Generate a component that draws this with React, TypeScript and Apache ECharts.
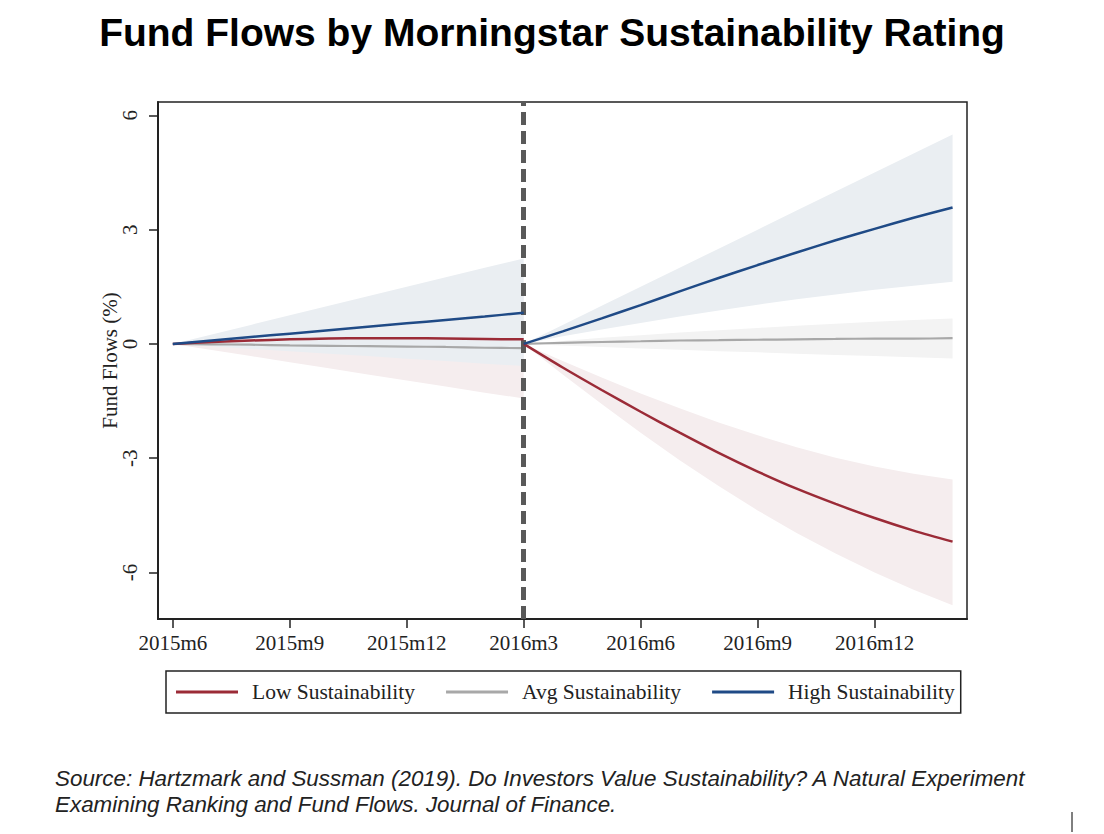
import React, { useEffect, useRef } from "react";
import * as echarts from "echarts";

// Months since 2015m6
const preMonths = [0, 1, 2, 3, 4, 5, 6, 7, 8, 9];
const postMonths = [9, 10, 11, 12, 13, 14, 15, 16, 17, 18, 19, 20];

const tickMonths = [0, 3, 6, 9, 12, 15, 18];
const tickLabels = ["2015m6", "2015m9", "2015m12", "2016m3", "2016m6", "2016m9", "2016m12"];
const yTicks = [-6, -3, 0, 3, 6];
const eventMonth = 9;

// Low sustainability
const lowPre = [0, 0.05, 0.09, 0.12, 0.14, 0.15, 0.15, 0.14, 0.13, 0.12];
const lowPreUpper = [0, 0.18, 0.36, 0.54, 0.72, 0.9, 1.08, 1.26, 1.44, 1.62];
const lowPreLower = [0, -0.16, -0.32, -0.48, -0.64, -0.8, -0.96, -1.12, -1.28, -1.43];
const lowPost = [0, -0.62, -1.21, -1.78, -2.33, -2.86, -3.35, -3.8, -4.2, -4.57, -4.9, -5.19];
const lowPostUpper = [0, -0.45, -0.88, -1.3, -1.69, -2.06, -2.4, -2.71, -2.99, -3.22, -3.41, -3.56];
const lowPostLower = [0, -0.8, -1.58, -2.33, -3.05, -3.73, -4.37, -4.96, -5.5, -6.0, -6.45, -6.86];

// Avg sustainability
const avgPre = [0, -0.01, -0.02, -0.04, -0.05, -0.06, -0.07, -0.08, -0.1, -0.11];
const avgPreUpper = [0, 0.05, 0.1, 0.15, 0.2, 0.25, 0.3, 0.35, 0.4, 0.45];
const avgPreLower = [0, -0.05, -0.11, -0.16, -0.22, -0.27, -0.33, -0.38, -0.44, -0.5];
const avgPost = [0, 0.03, 0.05, 0.07, 0.09, 0.1, 0.11, 0.12, 0.13, 0.14, 0.14, 0.15];
const avgPostUpper = [0, 0.08, 0.16, 0.23, 0.3, 0.36, 0.42, 0.48, 0.53, 0.58, 0.63, 0.67];
const avgPostLower = [0, -0.04, -0.08, -0.12, -0.15, -0.19, -0.22, -0.26, -0.29, -0.32, -0.35, -0.38];

// High sustainability
const highPre = [0, 0.09, 0.18, 0.27, 0.36, 0.45, 0.54, 0.63, 0.72, 0.82];
const highPreUpper = [0, 0.25, 0.5, 0.75, 1.0, 1.25, 1.5, 1.75, 2.0, 2.24];
const highPreLower = [0, -0.06, -0.13, -0.19, -0.26, -0.32, -0.39, -0.45, -0.52, -0.58];
const highPost = [0, 0.33, 0.67, 1.02, 1.38, 1.73, 2.07, 2.4, 2.72, 3.02, 3.31, 3.58];
const highPostUpper = [0, 0.5, 1.0, 1.5, 2.0, 2.5, 3.0, 3.5, 4.0, 4.5, 5.0, 5.5];
const highPostLower = [0, 0.2, 0.38, 0.55, 0.72, 0.88, 1.03, 1.17, 1.3, 1.42, 1.53, 1.63];

const RED = "#9B2B37";
const GRAY = "#A8A8A8";
const BLUE = "#1F4A86";
const RED_BAND = "#F5EDEE";
const GRAY_BAND = "#F3F3F3";
const BLUE_BAND = "#EAEEF2";

const SERIF = "'Liberation Serif', 'DejaVu Serif', serif";

function band(xs: number[], upper: number[], lower: number[], color: string, z: number) {
  return {
    type: "custom",
    silent: true,
    z,
    data: [[xs[0], upper[0]]],
    renderItem: (params: any, api: any) => {
      if (params.dataIndex !== 0) return null;
      const top = xs.map((x, i) => api.coord([x, upper[i]]));
      const bottom = xs.map((x, i) => api.coord([x, lower[i]])).reverse();
      return {
        type: "polygon",
        shape: { points: top.concat(bottom), smooth: 0 },
        style: { fill: color, stroke: "none" },
      };
    },
  };
}

function line(name: string, xs: number[], ys: number[], color: string, width: number, z: number, extra: any = {}) {
  return {
    name,
    type: "line",
    data: xs.map((x, i) => [x, ys[i]]),
    showSymbol: false,
    symbol: "none",
    smooth: 0.3,
    z,
    lineStyle: { color, width },
    itemStyle: { color },
    ...extra,
  };
}

export default function App() {
  const ref = useRef<HTMLDivElement>(null);
  useEffect(() => {
    if (!ref.current) return;
    const chart = echarts.init(ref.current, undefined, { renderer: "svg" });
    chart.setOption({
      animation: false,
      backgroundColor: "#ffffff",
      title: {
        text: "Fund Flows by Morningstar Sustainability Rating",
        left: "center",
        top: 8,
        textStyle: {
          fontFamily: "'Liberation Sans', Arial, sans-serif",
          fontWeight: "bold",
          fontSize: 39,
          color: "#000",
        },
      },
      grid: {
        left: 158,
        top: 102,
        right: 137,
        bottom: 215,
        show: true,
        borderColor: "#222",
        borderWidth: 1.5,
        backgroundColor: "transparent",
      },
      legend: {
        left: 166,
        top: 671,
        orient: "horizontal",
        padding: [10, 6, 10, 10],
        itemGap: 31,
        itemWidth: 62,
        itemHeight: 3,
        icon: "rect",
        borderColor: "#222",
        borderWidth: 1.5,
        data: ["Low Sustainability", "Avg Sustainability", "High Sustainability"],
        textStyle: { fontFamily: SERIF, fontSize: 21.5, color: "#222", padding: [0, 0, 0, 9] },
      },
      xAxis: {
        type: "value",
        min: -0.38,
        max: 20.37,
        splitLine: { show: false },
        axisLine: { show: true, onZero: false, lineStyle: { color: "#222", width: 2 } },
        axisTick: { show: true, customValues: tickMonths, length: 9, lineStyle: { color: "#222", width: 1.5 } },
        axisLabel: {
          customValues: tickMonths,
          margin: 13,
          fontFamily: SERIF,
          fontSize: 21,
          color: "#222",
          formatter: (v: number) => {
            const i = tickMonths.indexOf(Math.round(v));
            return i >= 0 ? tickLabels[i] : "";
          },
        },
      },
      yAxis: {
        type: "value",
        min: -7.22,
        max: 6.35,
        name: "Fund Flows (%)",
        nameLocation: "middle",
        nameGap: 38,
        nameMoveOverlap: false,
        nameTextStyle: { fontFamily: SERIF, fontSize: 21, color: "#222" },
        splitLine: { show: false },
        axisLine: { show: true, onZero: false, lineStyle: { color: "#222", width: 2 } },
        axisTick: { show: true, customValues: yTicks, length: 9, lineStyle: { color: "#222", width: 1.5 } },
        axisLabel: {
          customValues: yTicks,
          rotate: 90,
          margin: 18,
          fontFamily: SERIF,
          fontSize: 21,
          color: "#222",
        },
      },
      series: [
        band(preMonths, lowPreUpper, lowPreLower, RED_BAND, 1),
        band(postMonths, lowPostUpper, lowPostLower, RED_BAND, 1),
        band(preMonths, avgPreUpper, avgPreLower, GRAY_BAND, 2),
        band(postMonths, avgPostUpper, avgPostLower, GRAY_BAND, 2),
        band(preMonths, highPreUpper, highPreLower, BLUE_BAND, 3),
        band(postMonths, highPostUpper, highPostLower, BLUE_BAND, 3),
        line("Low Sustainability", preMonths, lowPre, RED, 2.5, 5),
        line("Low Sustainability", postMonths, lowPost, RED, 2.5, 5),
        line("Avg Sustainability", preMonths, avgPre, GRAY, 2.2, 4),
        line("Avg Sustainability", postMonths, avgPost, GRAY, 2.2, 4),
        line("High Sustainability", preMonths, highPre, BLUE, 2.5, 6),
        line("High Sustainability", postMonths, highPost, BLUE, 2.5, 6, {
          markLine: {
            silent: true,
            symbol: ["none", "none"],
            label: { show: false },
            lineStyle: { color: "#595959", width: 5, type: [13, 6] },
            data: [{ xAxis: eventMonth }],
          },
        }),
      ],
      graphic: [
        {
          type: "text",
          left: 55,
          top: 765,
          style: {
            text:
              "Source: Hartzmark and Sussman (2019). Do Investors Value Sustainability? A Natural Experiment\nExamining Ranking and Fund Flows. Journal of Finance.",
            font: "italic 22.4px 'Liberation Sans', Arial, sans-serif",
            fill: "#222",
            lineHeight: 26,
          },
        },
        {
          type: "line",
          shape: { x1: 1072, y1: 812, x2: 1072, y2: 832 },
          style: { stroke: "#000", lineWidth: 1 },
        },
      ],
    });
    return () => chart.dispose();
  }, []);
  return <div ref={ref} style={{ position: "fixed", left: 0, top: 0, width: 1104, height: 834 }} />;
}
